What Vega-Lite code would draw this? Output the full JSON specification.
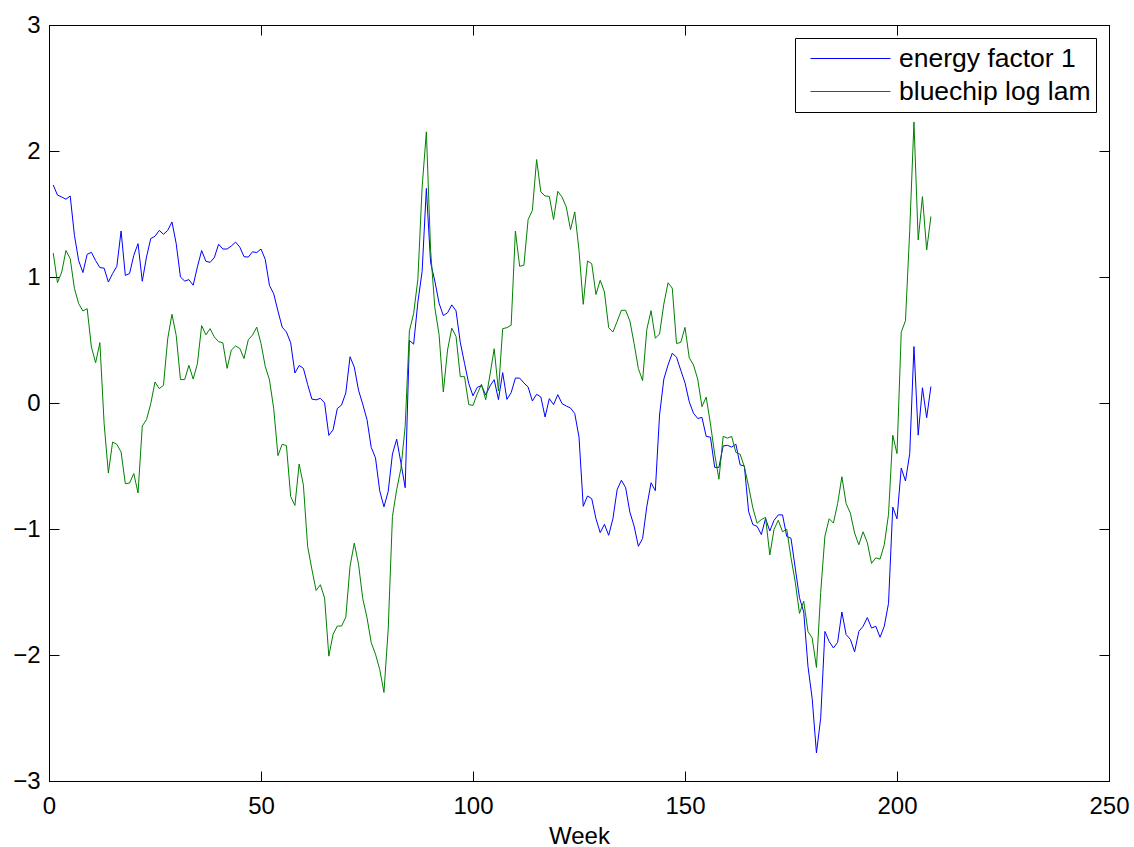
{
  "$schema": "https://vega.github.io/schema/vega-lite/v6.json",
  "autosize": {"type": "none"},
  "width": 1060,
  "height": 756,
  "padding": {"left": 49, "top": 25, "right": 25, "bottom": 66},
  "background": "white",
  "config": {
    "view": {"stroke": "black"},
    "font": "Liberation Sans",
    "axis": {
      "grid": false,
      "labelFont": "Liberation Sans",
      "labelFontSize": 24,
      "labelColor": "black",
      "domainColor": "black",
      "tickColor": "black",
      "tickSize": -10,
      "labelFlush": false,
      "labelOverlap": false,
      "titleFont": "Liberation Sans",
      "titleFontSize": 24,
      "titleFontWeight": "normal",
      "titleColor": "black"
    }
  },
  "data": {
    "values": [
      {"week":1,"energy":1.73,"bluechip":1.19},
      {"week":2,"energy":1.65,"bluechip":0.955},
      {"week":3,"energy":1.635,"bluechip":1.04},
      {"week":4,"energy":1.617,"bluechip":1.21},
      {"week":5,"energy":1.643,"bluechip":1.146},
      {"week":6,"energy":1.33,"bluechip":0.908},
      {"week":7,"energy":1.13,"bluechip":0.789},
      {"week":8,"energy":1.035,"bluechip":0.73},
      {"week":9,"energy":1.18,"bluechip":0.749},
      {"week":10,"energy":1.196,"bluechip":0.444},
      {"week":11,"energy":1.13,"bluechip":0.32},
      {"week":12,"energy":1.075,"bluechip":0.479},
      {"week":13,"energy":1.07,"bluechip":-0.163},
      {"week":14,"energy":0.96,"bluechip":-0.556},
      {"week":15,"energy":1.027,"bluechip":-0.31},
      {"week":16,"energy":1.085,"bluechip":-0.328},
      {"week":17,"energy":1.365,"bluechip":-0.389},
      {"week":18,"energy":1.013,"bluechip":-0.64},
      {"week":19,"energy":1.027,"bluechip":-0.635},
      {"week":20,"energy":1.172,"bluechip":-0.56},
      {"week":21,"energy":1.265,"bluechip":-0.714},
      {"week":22,"energy":0.966,"bluechip":-0.183},
      {"week":23,"energy":1.159,"bluechip":-0.132},
      {"week":24,"energy":1.305,"bluechip":-0.005},
      {"week":25,"energy":1.323,"bluechip":0.167},
      {"week":26,"energy":1.37,"bluechip":0.114},
      {"week":27,"energy":1.339,"bluechip":0.14},
      {"week":28,"energy":1.37,"bluechip":0.511},
      {"week":29,"energy":1.437,"bluechip":0.704},
      {"week":30,"energy":1.265,"bluechip":0.537},
      {"week":31,"energy":1.0,"bluechip":0.186},
      {"week":32,"energy":0.968,"bluechip":0.186},
      {"week":33,"energy":0.979,"bluechip":0.299},
      {"week":34,"energy":0.935,"bluechip":0.19},
      {"week":35,"energy":1.08,"bluechip":0.311},
      {"week":36,"energy":1.21,"bluechip":0.614},
      {"week":37,"energy":1.125,"bluechip":0.541},
      {"week":38,"energy":1.116,"bluechip":0.59},
      {"week":39,"energy":1.155,"bluechip":0.523},
      {"week":40,"energy":1.26,"bluechip":0.487},
      {"week":41,"energy":1.222,"bluechip":0.478},
      {"week":42,"energy":1.222,"bluechip":0.275},
      {"week":43,"energy":1.246,"bluechip":0.42},
      {"week":44,"energy":1.277,"bluechip":0.453},
      {"week":45,"energy":1.237,"bluechip":0.433},
      {"week":46,"energy":1.161,"bluechip":0.353},
      {"week":47,"energy":1.158,"bluechip":0.502},
      {"week":48,"energy":1.2,"bluechip":0.539},
      {"week":49,"energy":1.194,"bluechip":0.602},
      {"week":50,"energy":1.222,"bluechip":0.472},
      {"week":51,"energy":1.14,"bluechip":0.291},
      {"week":52,"energy":0.933,"bluechip":0.183},
      {"week":53,"energy":0.867,"bluechip":-0.045},
      {"week":54,"energy":0.73,"bluechip":-0.418},
      {"week":55,"energy":0.602,"bluechip":-0.327},
      {"week":56,"energy":0.563,"bluechip":-0.339},
      {"week":57,"energy":0.478,"bluechip":-0.743},
      {"week":58,"energy":0.238,"bluechip":-0.813},
      {"week":59,"energy":0.298,"bluechip":-0.484},
      {"week":60,"energy":0.275,"bluechip":-0.652},
      {"week":61,"energy":0.147,"bluechip":-1.138},
      {"week":62,"energy":0.031,"bluechip":-1.32},
      {"week":63,"energy":0.025,"bluechip":-1.488},
      {"week":64,"energy":0.037,"bluechip":-1.442},
      {"week":65,"energy":0.001,"bluechip":-1.548},
      {"week":66,"energy":-0.257,"bluechip":-2.009},
      {"week":67,"energy":-0.212,"bluechip":-1.836},
      {"week":68,"energy":-0.044,"bluechip":-1.77},
      {"week":69,"energy":-0.016,"bluechip":-1.77},
      {"week":70,"energy":0.08,"bluechip":-1.7},
      {"week":71,"energy":0.367,"bluechip":-1.295},
      {"week":72,"energy":0.285,"bluechip":-1.112},
      {"week":73,"energy":0.102,"bluechip":-1.279},
      {"week":74,"energy":-0.01,"bluechip":-1.553},
      {"week":75,"energy":-0.132,"bluechip":-1.704},
      {"week":76,"energy":-0.353,"bluechip":-1.902},
      {"week":77,"energy":-0.435,"bluechip":-1.993},
      {"week":78,"energy":-0.697,"bluechip":-2.115},
      {"week":79,"energy":-0.824,"bluechip":-2.297},
      {"week":80,"energy":-0.702,"bluechip":-1.796},
      {"week":81,"energy":-0.405,"bluechip":-0.9},
      {"week":82,"energy":-0.287,"bluechip":-0.687},
      {"week":83,"energy":-0.475,"bluechip":-0.521},
      {"week":84,"energy":-0.672,"bluechip":-0.186},
      {"week":85,"energy":0.497,"bluechip":0.573},
      {"week":86,"energy":0.467,"bluechip":0.71},
      {"week":87,"energy":0.801,"bluechip":0.983},
      {"week":88,"energy":1.044,"bluechip":1.712},
      {"week":89,"energy":1.703,"bluechip":2.152},
      {"week":90,"energy":1.114,"bluechip":1.211},
      {"week":91,"energy":0.968,"bluechip":0.756},
      {"week":92,"energy":0.792,"bluechip":0.543},
      {"week":93,"energy":0.694,"bluechip":0.087},
      {"week":94,"energy":0.716,"bluechip":0.421},
      {"week":95,"energy":0.779,"bluechip":0.594},
      {"week":96,"energy":0.731,"bluechip":0.528},
      {"week":97,"energy":0.482,"bluechip":0.209},
      {"week":98,"energy":0.315,"bluechip":0.209},
      {"week":99,"energy":0.154,"bluechip":-0.013},
      {"week":100,"energy":0.057,"bluechip":-0.019},
      {"week":101,"energy":0.124,"bluechip":0.072},
      {"week":102,"energy":0.139,"bluechip":0.148},
      {"week":103,"energy":0.063,"bluechip":0.026},
      {"week":104,"energy":0.135,"bluechip":0.222},
      {"week":105,"energy":0.185,"bluechip":0.431},
      {"week":106,"energy":0.027,"bluechip":0.095},
      {"week":107,"energy":0.241,"bluechip":0.59},
      {"week":108,"energy":0.029,"bluechip":0.598},
      {"week":109,"energy":0.082,"bluechip":0.617},
      {"week":110,"energy":0.198,"bluechip":1.365},
      {"week":111,"energy":0.198,"bluechip":1.085},
      {"week":112,"energy":0.159,"bluechip":1.093},
      {"week":113,"energy":0.127,"bluechip":1.456},
      {"week":114,"energy":0.016,"bluechip":1.529},
      {"week":115,"energy":0.069,"bluechip":1.932},
      {"week":116,"energy":0.048,"bluechip":1.675},
      {"week":117,"energy":-0.111,"bluechip":1.643},
      {"week":118,"energy":0.035,"bluechip":1.64},
      {"week":119,"energy":-0.013,"bluechip":1.456},
      {"week":120,"energy":0.066,"bluechip":1.68},
      {"week":121,"energy":-0.005,"bluechip":1.635},
      {"week":122,"energy":-0.024,"bluechip":1.556},
      {"week":123,"energy":-0.04,"bluechip":1.376},
      {"week":124,"energy":-0.084,"bluechip":1.516},
      {"week":125,"energy":-0.27,"bluechip":1.212},
      {"week":126,"energy":-0.82,"bluechip":0.783},
      {"week":127,"energy":-0.738,"bluechip":1.127},
      {"week":128,"energy":-0.759,"bluechip":1.106},
      {"week":129,"energy":-0.918,"bluechip":0.861},
      {"week":130,"energy":-1.029,"bluechip":0.974},
      {"week":131,"energy":-0.963,"bluechip":0.881},
      {"week":132,"energy":-1.05,"bluechip":0.598},
      {"week":133,"energy":-0.918,"bluechip":0.563},
      {"week":134,"energy":-0.687,"bluechip":0.648},
      {"week":135,"energy":-0.613,"bluechip":0.736},
      {"week":136,"energy":-0.672,"bluechip":0.736},
      {"week":137,"energy":-0.866,"bluechip":0.651},
      {"week":138,"energy":-0.977,"bluechip":0.471},
      {"week":139,"energy":-1.137,"bluechip":0.273},
      {"week":140,"energy":-1.075,"bluechip":0.178},
      {"week":141,"energy":-0.82,"bluechip":0.585},
      {"week":142,"energy":-0.633,"bluechip":0.733},
      {"week":143,"energy":-0.696,"bluechip":0.514},
      {"week":144,"energy":-0.095,"bluechip":0.548},
      {"week":145,"energy":0.189,"bluechip":0.784},
      {"week":146,"energy":0.302,"bluechip":0.954},
      {"week":147,"energy":0.395,"bluechip":0.911},
      {"week":148,"energy":0.364,"bluechip":0.472},
      {"week":149,"energy":0.26,"bluechip":0.481},
      {"week":150,"energy":0.16,"bluechip":0.6},
      {"week":151,"energy":0.01,"bluechip":0.359},
      {"week":152,"energy":-0.081,"bluechip":0.302},
      {"week":153,"energy":-0.123,"bluechip":0.189},
      {"week":154,"energy":-0.114,"bluechip":-0.029},
      {"week":155,"energy":-0.265,"bluechip":0.047},
      {"week":156,"energy":-0.271,"bluechip":-0.166},
      {"week":157,"energy":-0.511,"bluechip":-0.406},
      {"week":158,"energy":-0.511,"bluechip":-0.605},
      {"week":159,"energy":-0.341,"bluechip":-0.265},
      {"week":160,"energy":-0.336,"bluechip":-0.279},
      {"week":161,"energy":-0.35,"bluechip":-0.265},
      {"week":162,"energy":-0.327,"bluechip":-0.392},
      {"week":163,"energy":-0.491,"bluechip":-0.406},
      {"week":164,"energy":-0.5,"bluechip":-0.506},
      {"week":165,"energy":-0.86,"bluechip":-0.662},
      {"week":166,"energy":-0.965,"bluechip":-0.832},
      {"week":167,"energy":-0.979,"bluechip":-0.954},
      {"week":168,"energy":-1.044,"bluechip":-0.925},
      {"week":169,"energy":-0.917,"bluechip":-0.908},
      {"week":170,"energy":-1.016,"bluechip":-1.206},
      {"week":171,"energy":-0.931,"bluechip":-1.002},
      {"week":172,"energy":-0.888,"bluechip":-0.931},
      {"week":173,"energy":-0.888,"bluechip":-1.022},
      {"week":174,"energy":-1.059,"bluechip":-1.002},
      {"week":175,"energy":-1.074,"bluechip":-1.228},
      {"week":176,"energy":-1.31,"bluechip":-1.42},
      {"week":177,"energy":-1.545,"bluechip":-1.67},
      {"week":178,"energy":-1.659,"bluechip":-1.573},
      {"week":179,"energy":-2.089,"bluechip":-1.813},
      {"week":180,"energy":-2.347,"bluechip":-1.865},
      {"week":181,"energy":-2.777,"bluechip":-2.099},
      {"week":182,"energy":-2.502,"bluechip":-1.504},
      {"week":183,"energy":-1.813,"bluechip":-1.056},
      {"week":184,"energy":-1.893,"bluechip":-0.919},
      {"week":185,"energy":-1.944,"bluechip":-0.953},
      {"week":186,"energy":-1.9,"bluechip":-0.798},
      {"week":187,"energy":-1.659,"bluechip":-0.585},
      {"week":188,"energy":-1.838,"bluechip":-0.798},
      {"week":189,"energy":-1.876,"bluechip":-0.874},
      {"week":190,"energy":-1.975,"bluechip":-1.032},
      {"week":191,"energy":-1.813,"bluechip":-1.125},
      {"week":192,"energy":-1.772,"bluechip":-1.022},
      {"week":193,"energy":-1.703,"bluechip":-1.108},
      {"week":194,"energy":-1.786,"bluechip":-1.273},
      {"week":195,"energy":-1.772,"bluechip":-1.229},
      {"week":196,"energy":-1.859,"bluechip":-1.239},
      {"week":197,"energy":-1.772,"bluechip":-1.125},
      {"week":198,"energy":-1.59,"bluechip":-0.884},
      {"week":199,"energy":-0.826,"bluechip":-0.255},
      {"week":200,"energy":-0.919,"bluechip":-0.402},
      {"week":201,"energy":-0.516,"bluechip":0.561},
      {"week":202,"energy":-0.619,"bluechip":0.654},
      {"week":203,"energy":-0.402,"bluechip":1.37},
      {"week":204,"energy":0.448,"bluechip":2.23},
      {"week":205,"energy":-0.255,"bluechip":1.294},
      {"week":206,"energy":0.121,"bluechip":1.638},
      {"week":207,"energy":-0.117,"bluechip":1.215},
      {"week":208,"energy":0.131,"bluechip":1.48}
    ]
  },
  "transform": [
    {"fold": ["energy", "bluechip"], "as": ["series", "value"]}
  ],
  "layer": [
    {
      "transform": [{"filter": "datum.series === 'energy'"}],
      "mark": {"type": "line", "strokeWidth": 1, "clip": true},
      "encoding": {
        "x": {
          "field": "week", "type": "quantitative",
          "scale": {"domain": [0, 250], "nice": false, "zero": false},
          "axis": {"orient": "bottom", "tickCount": 5, "title": "Week", "labelPadding": 23, "titleY": 62, "titleBaseline": "alphabetic"}
        },
        "y": {
          "field": "value", "type": "quantitative",
          "scale": {"domain": [-3, 3], "nice": false, "zero": false},
          "axis": {"orient": "left", "tickCount": 6, "title": null, "labelPadding": 19}
        },
        "color": {
          "field": "series", "type": "nominal",
          "scale": {"domain": ["energy", "bluechip"], "range": ["#0000ff", "#008000"]},
          "legend": {
            "title": null,
            "orient": "top-right",
            "offset": 13,
            "labelExpr": "datum.label === 'energy' ? 'energy factor 1' : 'bluechip log lam'",
            "symbolType": "stroke",
            "symbolSize": 6400,
            "symbolStrokeWidth": 1,
            "symbolOffset": 10,
            "clipHeight": 31,
            "rowPadding": 2,
            "padding": 5,
            "labelFont": "Liberation Sans",
            "labelFontSize": 26.5,
            "labelColor": "black",
            "labelOffset": 8,
            "labelLimit": 400,
            "strokeColor": "black",
            "fillColor": "white"
          }
        }
      }
    },
    {
      "transform": [{"filter": "datum.series === 'bluechip'"}],
      "mark": {"type": "line", "strokeWidth": 1, "clip": true},
      "encoding": {
        "x": {
          "field": "week", "type": "quantitative",
          "axis": {"orient": "top", "tickCount": 5, "labels": false, "title": null}
        },
        "y": {
          "field": "value", "type": "quantitative",
          "axis": {"orient": "right", "tickCount": 6, "labels": false, "title": null}
        },
        "color": {"field": "series", "type": "nominal"}
      }
    }
  ],
  "resolve": {"axis": {"x": "independent", "y": "independent"}}
}
